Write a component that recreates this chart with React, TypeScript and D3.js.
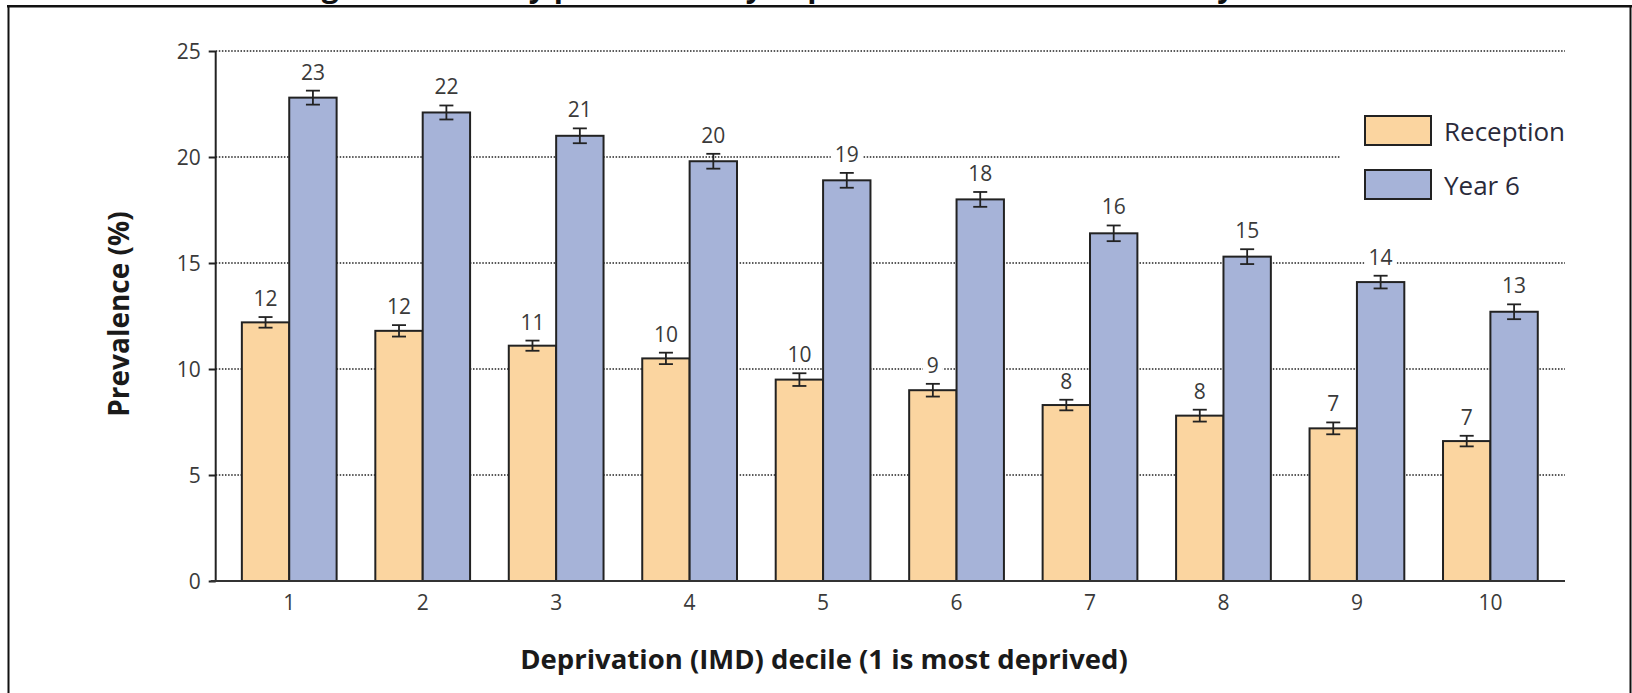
import React, { useEffect, useRef } from 'react';
import * as d3 from 'd3';

// Obesity prevalence by IMD decile
const deciles = ['1', '2', '3', '4', '5', '6', '7', '8', '9', '10'];
const seriesNames = ['Reception', 'Year 6'];
const reception = [12.2, 11.8, 11.1, 10.5, 9.5, 9.0, 8.3, 7.8, 7.2, 6.6];
const receptionErr = [0.25, 0.27, 0.24, 0.27, 0.3, 0.3, 0.25, 0.28, 0.28, 0.25];
const receptionLabels = ['12', '12', '11', '10', '10', '9', '8', '8', '7', '7'];
const year6 = [22.8, 22.1, 21.0, 19.8, 18.9, 18.0, 16.4, 15.3, 14.1, 12.7];
const year6Err = [0.33, 0.33, 0.35, 0.35, 0.35, 0.35, 0.37, 0.35, 0.3, 0.35];
const year6Labels = ['23', '22', '21', '20', '19', '18', '16', '15', '14', '13'];
const yTicks = [0, 5, 10, 15, 20, 25];
const colors = ['#FBD5A0', '#A6B3D8'];

const W = 1632;
const H = 693;
const FONT = '"Open Sans", "Noto Sans", sans-serif';

interface Row { decile: string; series: string; value: number; err: number; label: string; }

const App: React.FC = () => {
  const svgRef = useRef<SVGSVGElement | null>(null);

  useEffect(() => {
    if (!svgRef.current) return;
    const svg = d3.select(svgRef.current);
    svg.selectAll('*').remove();

    const left = 215.7, right = 1565, top = 51, bottom = 581;

    const x0 = d3.scaleBand<string>().domain(deciles).range([left, right])
      .paddingInner(0.29).paddingOuter(0.2).align(0.49);
    const x1 = d3.scaleBand<string>().domain(seriesNames).range([0, x0.bandwidth()]);
    const y = d3.scaleLinear().domain([0, 25]).range([bottom, top]);

    const rows: Row[] = [];
    deciles.forEach((d, i) => {
      rows.push({ decile: d, series: 'Reception', value: reception[i], err: receptionErr[i], label: receptionLabels[i] });
      rows.push({ decile: d, series: 'Year 6', value: year6[i], err: year6Err[i], label: year6Labels[i] });
    });
    const color = d3.scaleOrdinal<string, string>().domain(seriesNames).range(colors);
    const cx = (r: Row) => (x0(r.decile) as number) + (x1(r.series) as number) + x1.bandwidth() / 2;

    // frame + title (mostly above the top edge, as in the source crop)
    svg.append('text')
      .attr('x', 790).attr('y', -3)
      .attr('text-anchor', 'middle')
      .attr('font-family', FONT).attr('font-weight', 700).attr('font-size', 30)
      .attr('fill', '#111')
      .text('Figure 4: Obesity prevalence by deprivation decile and school year');
    svg.append('line').attr('x1', 7).attr('x2', W).attr('y1', 6.3).attr('y2', 6.3)
      .attr('stroke', '#111').attr('stroke-width', 2.4);
    svg.append('line').attr('x1', 8.5).attr('x2', 8.5).attr('y1', 6).attr('y2', H)
      .attr('stroke', '#111').attr('stroke-width', 2);
    svg.append('line').attr('x1', W - 1.5).attr('x2', W - 1.5).attr('y1', 6).attr('y2', H)
      .attr('stroke', '#111').attr('stroke-width', 2);

    // dotted gridlines
    svg.append('g').selectAll('line')
      .data(yTicks.filter(t => t > 0))
      .enter().append('line')
      .attr('x1', left).attr('x2', right)
      .attr('y1', d => y(d)).attr('y2', d => y(d))
      .attr('stroke', '#222').attr('stroke-width', 1.3)
      .attr('stroke-dasharray', '1.5 1.6');

    // bars
    svg.append('g').selectAll('rect')
      .data(rows)
      .enter().append('rect')
      .attr('x', d => (x0(d.decile) as number) + (x1(d.series) as number))
      .attr('y', d => y(d.value))
      .attr('width', x1.bandwidth())
      .attr('height', d => y(0) - y(d.value))
      .attr('fill', d => color(d.series))
      .attr('stroke', '#222').attr('stroke-width', 2);

    // error bars
    const eb = svg.append('g').attr('stroke', '#222').attr('stroke-width', 1.8);
    rows.forEach(r => {
      const c = cx(r);
      eb.append('line').attr('x1', c).attr('x2', c).attr('y1', y(r.value + r.err)).attr('y2', y(r.value - r.err));
      eb.append('line').attr('x1', c - 7).attr('x2', c + 7).attr('y1', y(r.value + r.err)).attr('y2', y(r.value + r.err));
      eb.append('line').attr('x1', c - 7).attr('x2', c + 7).attr('y1', y(r.value - r.err)).attr('y2', y(r.value - r.err));
    });

    // value labels on white patches
    const lab = svg.append('g');
    rows.forEach(r => {
      const c = cx(r);
      const base = y(r.value + r.err) - 11;
      const w = r.label.length * 12 + 8;
      lab.append('rect').attr('x', c - w / 2).attr('y', base - 17).attr('width', w).attr('height', 20).attr('fill', '#fff');
      lab.append('text').attr('x', c).attr('y', base)
        .attr('text-anchor', 'middle')
        .attr('font-family', FONT).attr('font-size', 21).attr('fill', '#3a3a3a')
        .text(r.label);
    });

    // y axis
    const yAxis = svg.append('g').attr('transform', `translate(${left},0)`)
      .call(d3.axisLeft(y).tickValues(yTicks).tickSize(7).tickPadding(8));
    yAxis.select('.domain').attr('stroke', '#222').attr('stroke-width', 2)
      .attr('d', `M0,${bottom}V${top}`);
    yAxis.selectAll('.tick line').attr('stroke', '#222').attr('stroke-width', 2);
    yAxis.selectAll('.tick text')
      .attr('font-family', FONT).attr('font-size', 21).attr('fill', '#3a3a3a').attr('dy', '0.36em');

    // x axis
    const xAxis = svg.append('g').attr('transform', `translate(0,${bottom})`)
      .call(d3.axisBottom(x0).tickSize(0).tickPadding(14));
    xAxis.select('.domain').attr('stroke', '#333').attr('stroke-width', 2)
      .attr('d', `M${left - 5},0H${right}`);
    xAxis.selectAll('.tick text')
      .attr('font-family', FONT).attr('font-size', 21).attr('fill', '#3a3a3a');

    // axis titles
    svg.append('text')
      .attr('x', 824).attr('y', 669)
      .attr('text-anchor', 'middle')
      .attr('font-family', FONT).attr('font-weight', 700).attr('font-size', 27.5).attr('fill', '#1a1a1a')
      .text('Deprivation (IMD) decile (1 is most deprived)');
    svg.append('text')
      .attr('transform', 'translate(129,314) rotate(-90)')
      .attr('text-anchor', 'middle')
      .attr('font-family', FONT).attr('font-weight', 700).attr('font-size', 28).attr('fill', '#1a1a1a')
      .text('Prevalence (%)');

    // legend
    const lg = svg.append('g');
    lg.append('rect').attr('x', 1341).attr('y', 100).attr('width', 250).attr('height', 115).attr('fill', '#fff');
    seriesNames.forEach((s, i) => {
      const ty = 116 + i * 54;
      lg.append('rect').attr('x', 1365).attr('y', ty).attr('width', 66).attr('height', 29)
        .attr('fill', color(s)).attr('stroke', '#222').attr('stroke-width', 2);
      lg.append('text').attr('x', 1444).attr('y', ty + 25)
        .attr('font-family', FONT).attr('font-size', 26).attr('fill', '#2a2a3a')
        .text(s);
    });
  }, []);

  return (
    <svg ref={svgRef} width={W} height={H}
      style={{ position: 'absolute', left: 0, top: 0, background: '#fff' }} />
  );
};

export default App;
